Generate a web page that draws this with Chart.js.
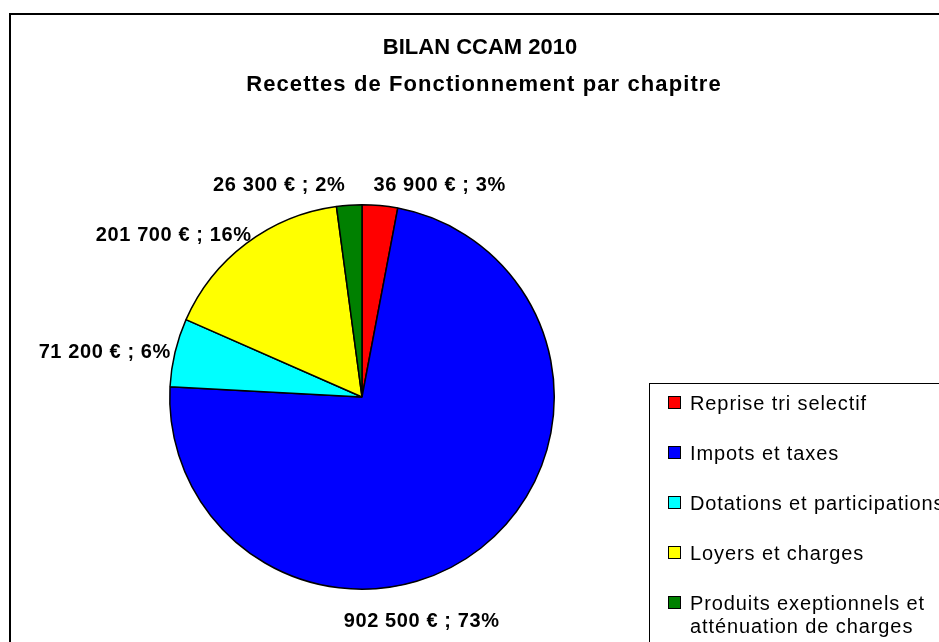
<!DOCTYPE html>
<html>
<head>
<meta charset="utf-8">
<script src="https://cdn.jsdelivr.net/npm/chart.js@4/dist/chart.umd.min.js"></script>
<style>
html,body{margin:0;padding:0;background:#fff;overflow:hidden;}
#wrap{position:relative;width:939px;height:642px;overflow:hidden;}
#frame{position:absolute;left:9px;top:13px;width:1000px;height:700px;border-left:2px solid #000;border-top:2px solid #000;}
#chart{position:absolute;left:0;top:0;}
.title{position:absolute;left:0;width:960px;text-align:center;font-family:"Liberation Sans",Arial,sans-serif;font-weight:bold;font-size:22px;color:#000;white-space:nowrap;line-height:24px;}
#legend{position:absolute;left:649px;top:383px;width:400px;height:400px;border:1px solid #000;font-family:"Liberation Sans",Arial,sans-serif;font-size:20px;color:#000;}
.item{position:absolute;left:0;white-space:nowrap;}
.box{position:absolute;left:18px;width:11px;height:11px;border:1px solid #000;}
.txt{position:absolute;left:40px;line-height:23px;letter-spacing:0.9px;}
</style>
</head>
<body>
<div id="wrap">
  <div id="frame"></div>
  <canvas id="chart" width="939" height="642"></canvas>
  <div class="title" id="t1" style="top:35px;left:0;letter-spacing:0px;"></div>
  <div class="title" id="t2" style="top:72px;left:4px;letter-spacing:1.1px;"></div>
  <div id="legend"></div>
</div>
<script>
// ---- data ----
const categories = ['Reprise tri selectif', 'Impots et taxes', 'Dotations et participations', 'Loyers et charges', ['Produits exeptionnels et', 'atténuation de charges']];
const values = [36900, 902500, 71200, 201700, 26300];
const colors = ['#FF0000', '#0000FF', '#00FFFF', '#FFFF00', '#008000'];
const titleLines = ['BILAN CCAM 2010', 'Recettes de Fonctionnement par chapitre'];
// label placement around the pie (angle from 12 o'clock in degrees, distance in radii)
const labelAngles = [20.2, 165.1, 279.9, 310.6, 338.6];
const labelDistances = [1.17, 1.207, 1.358, 1.29, 1.18];

document.getElementById('t1').textContent = titleLines[0];
document.getElementById('t2').textContent = titleLines[1];

// legend
const leg = document.getElementById('legend');
categories.forEach((c, i) => {
  const item = document.createElement('div');
  item.className = 'item';
  item.style.top = (8 + i * 50) + 'px';
  const box = document.createElement('div');
  box.className = 'box';
  box.style.background = colors[i];
  box.style.top = '4px';
  const txt = document.createElement('div');
  txt.className = 'txt';
  txt.style.top = '0px';
  txt.innerHTML = (Array.isArray(c) ? c : [c]).map(s => s.replace(/&/g,'&amp;').replace(/</g,'&lt;')).join('<br>');
  item.appendChild(box);
  item.appendChild(txt);
  leg.appendChild(item);
});

const total = values.reduce((a, b) => a + b, 0);
function fmt(v) {
  return String(v).replace(/\B(?=(\d{3})+(?!\d))/g, ' ') + ' € ; ' + Math.round(v / total * 100) + '%';
}

const labelPlugin = {
  id: 'outLabels',
  afterDatasetsDraw(chart) {
    const ctx = chart.ctx;
    const meta = chart.getDatasetMeta(0);
    ctx.save();
    ctx.font = 'bold 20px "Liberation Sans", Arial, sans-serif';
    if ('letterSpacing' in ctx) ctx.letterSpacing = '0.6px';
    ctx.fillStyle = '#000';
    ctx.textAlign = 'center';
    ctx.textBaseline = 'middle';
    meta.data.forEach((arc, i) => {
      const p = arc.getProps(['x', 'y', 'outerRadius'], true);
      const a = labelAngles[i] * Math.PI / 180;
      const d = p.outerRadius * labelDistances[i];
      ctx.fillText(fmt(values[i]), p.x + d * Math.sin(a), p.y - d * Math.cos(a));
    });
    ctx.restore();
  }
};

new Chart(document.getElementById('chart'), {
  type: 'pie',
  data: {
    labels: categories,
    datasets: [{
      data: values,
      backgroundColor: colors,
      borderColor: '#000',
      borderWidth: 1.5
    }]
  },
  options: {
    responsive: false,
    animation: false,
    events: [],
    layout: { padding: { left: 169, right: 384, top: 204, bottom: 52 } },
    plugins: {
      legend: { display: false },
      title: { display: false },
      tooltip: { enabled: false }
    }
  },
  plugins: [labelPlugin]
});
</script>
</body>
</html>
